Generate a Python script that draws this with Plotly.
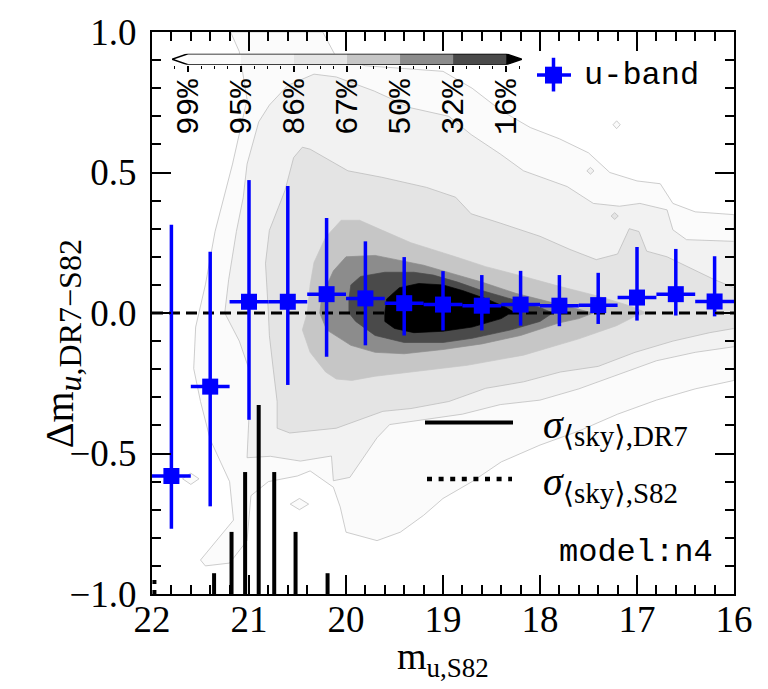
import plotly.graph_objects as go

# ---------------- data ----------------
mag_bins = [21.8, 21.4, 21.0, 20.6, 20.2, 19.8, 19.4, 19.0, 18.6, 18.2, 17.8, 17.4, 17.0, 16.6, 16.2]
dm_median = [-0.580, -0.262, 0.040, 0.040, 0.067, 0.052, 0.035, 0.030, 0.026, 0.030, 0.026, 0.028, 0.055, 0.067, 0.041]
dm_upper = [0.314, 0.218, 0.473, 0.452, 0.338, 0.255, 0.199, 0.149, 0.135, 0.150, 0.135, 0.143, 0.235, 0.228, 0.202]
dm_lower = [-0.768, -0.688, -0.380, -0.256, -0.156, -0.115, -0.080, -0.062, -0.062, -0.045, -0.047, -0.039, -0.027, -0.009, -0.012]
bin_halfwidth = 0.2

hist_dr7_mag = [21.36, 21.18, 21.04, 20.90, 20.74, 20.52, 20.19]
hist_dr7_top = [-0.926, -0.779, -0.566, -0.327, -0.566, -0.779, -0.926]
hist_s82_mag = [21.975]
hist_s82_top = [-0.94]

level_labels = ["99%", "95%", "86%", "67%", "50%", "32%", "16%"]
level_colors = ["#fbfbfb", "#f2f2f2", "#e4e4e4", "#c6c6c6", "#8c8c8c", "#4a4a4a", "#000000"]

# contour outlines (mag_S82, delta m), one list per enclosed level
c99 = [(21.19, 1.0), (20.24, 1.0), (20.1, 0.91), (19.8, 0.88), (19.4, 0.87), (19.0, 0.86), (18.7, 0.80),
       (18.4, 0.72), (18.1, 0.66), (17.8, 0.62), (17.5, 0.57), (17.28, 0.50), (17.0, 0.47), (16.76, 0.46),
       (16.63, 0.39), (16.4, 0.36), (16.0, 0.35), (16.0, -0.24), (16.4, -0.27), (16.8, -0.31), (17.2, -0.36),
       (17.6, -0.42), (18.0, -0.47), (18.4, -0.53), (18.7, -0.60), (19.0, -0.66), (19.2, -0.72), (19.44, -0.78),
       (19.68, -0.81), (20.0, -0.78), (20.06, -0.69), (20.13, -0.62), (20.37, -0.562), (20.5, -0.58),
       (20.8, -0.60), (20.98, -0.65), (21.02, -0.81), (21.2, -0.89), (21.45, -0.90), (21.5, -0.879),
       (21.33, -0.808), (21.16, -0.737), (21.2, -0.6), (21.4, -0.45), (21.5, -0.315), (21.57, -0.198),
       (21.55, -0.05), (21.45, 0.1), (21.35, 0.29), (21.17, 0.53), (21.02, 0.76), (21.1, 0.93)]
c95 = [(21.25, 0.0), (21.21, 0.118), (21.13, 0.29), (21.06, 0.41), (21.02, 0.53), (20.9, 0.68), (20.79, 0.74),
       (20.6, 0.81), (20.33, 0.85), (20.1, 0.84), (19.71, 0.79), (19.33, 0.73), (18.94, 0.70), (18.71, 0.635),
       (18.41, 0.566), (18.17, 0.506), (17.72, 0.45), (17.45, 0.39), (17.18, 0.38), (16.97, 0.39),
       (16.69, 0.367), (16.63, 0.296), (16.49, 0.261), (16.0, 0.255), (16.0, -0.12), (16.4, -0.14),
       (16.8, -0.17), (17.2, -0.22), (17.6, -0.27), (18.0, -0.31), (18.41, -0.326), (18.8, -0.36),
       (19.2, -0.38), (19.55, -0.397), (19.68, -0.444), (19.96, -0.585), (20.13, -0.597), (20.15, -0.509),
       (20.47, -0.527), (20.78, -0.51), (21.02, -0.515), (20.99, -0.29), (21.0, -0.2), (21.1, -0.1)]
c86 = [(20.8, 0.0), (20.83, 0.177), (20.79, 0.294), (20.63, 0.435), (20.54, 0.553), (20.45, 0.59),
       (20.37, 0.583), (19.98, 0.506), (19.63, 0.483), (19.17, 0.447), (18.87, 0.412), (18.71, 0.353),
       (18.41, 0.32), (18.0, 0.273), (17.69, 0.226), (17.42, 0.19), (17.2, 0.21), (17.08, 0.30),
       (16.98, 0.29), (16.9, 0.22), (16.69, 0.20), (16.4, 0.15), (16.21, 0.12), (16.0, 0.09), (16.0, -0.055),
       (16.25, -0.07), (16.63, -0.10), (17.02, -0.14), (17.40, -0.19), (17.79, -0.21), (18.17, -0.245),
       (18.56, -0.268), (18.94, -0.315), (19.33, -0.34), (19.62, -0.35), (20.10, -0.41), (20.58, -0.427),
       (20.71, -0.41), (20.71, -0.315), (20.75, -0.2), (20.79, -0.08)]
c67 = [(20.40, 0.0), (20.37, 0.10), (20.33, 0.18), (20.21, 0.27), (20.05, 0.33), (19.86, 0.33), (19.63, 0.295),
       (19.33, 0.25), (18.87, 0.20), (18.56, 0.165), (18.17, 0.13), (17.79, 0.094), (17.40, 0.06),
       (17.06, 0.024), (16.90, 0.0), (17.02, -0.012), (17.21, -0.045), (17.6, -0.092), (18.17, -0.15),
       (18.75, -0.186), (19.33, -0.21), (19.7, -0.225), (19.94, -0.24), (20.1, -0.235), (20.21, -0.21),
       (20.37, -0.14), (20.45, -0.06)]
c50 = [(20.27, 0.0), (20.25, 0.06), (20.13, 0.15), (20.0, 0.20), (19.7, 0.205), (19.5, 0.19), (19.2, 0.17),
       (18.9, 0.14), (18.6, 0.11), (18.25, 0.07), (17.9, 0.04), (17.6, 0.015), (17.45, 0.0), (17.6, -0.02),
       (17.8, -0.035), (18.2, -0.08), (18.6, -0.11), (19.0, -0.13), (19.4, -0.145), (19.7, -0.14),
       (19.95, -0.115), (20.2, -0.06)]
c32 = [(19.97, 0.0), (19.97, 0.05), (19.95, 0.10), (19.85, 0.13), (19.6, 0.145), (19.3, 0.145), (19.1, 0.135),
       (18.85, 0.11), (18.6, 0.08), (18.3, 0.05), (18.0, 0.02), (17.87, 0.0), (18.0, -0.03), (18.3, -0.06),
       (18.7, -0.09), (19.0, -0.105), (19.4, -0.105), (19.7, -0.08), (19.9, -0.03)]
c16 = [(19.60, 0.0), (19.58, 0.05), (19.45, 0.09), (19.25, 0.105), (19.0, 0.10), (18.8, 0.08), (18.55, 0.05),
       (18.35, 0.02), (18.28, 0.005), (18.4, -0.02), (18.7, -0.05), (19.0, -0.065), (19.3, -0.07),
       (19.5, -0.055), (19.6, -0.03)]
contours = [c99, c95, c86, c67, c50, c32, c16]

# small isolated contour islands: (mag, dm, half width, half height, level index)
islands = [(17.21, 0.67, 0.037, 0.014, 0), (17.48, 0.506, 0.037, 0.012, 1), (17.23, 0.345, 0.037, 0.012, 2),
           (21.60, -0.59, 0.085, 0.020, 0), (20.48, -0.68, 0.095, 0.020, 0)]

x_range = [22, 16]
y_range = [-1, 1]

# ---------------- figure geometry (pixels) ----------------
W, H = 768, 689
L, R, T, B = 152, 734, 27, 594


def xp(px):
    return (px - L) / (R - L)


def yp(py):
    return (B - py) / (B - T)


SERIF = "Liberation Serif, DejaVu Serif, serif"
MONO = "Liberation Mono, DejaVu Sans Mono, monospace"

fig = go.Figure()

# filled density contours
for i, poly in enumerate(contours):
    xs = [p[0] for p in poly] + [poly[0][0]]
    ys = [p[1] for p in poly] + [poly[0][1]]
    edge = "#b8b8b8" if i < 3 else level_colors[i]
    fig.add_trace(go.Scatter(x=xs, y=ys, mode="lines", fill="toself", fillcolor=level_colors[i],
                             line=dict(color=edge, width=0.7), hoverinfo="skip", showlegend=False))

for (mx, my, hw, hh, li) in islands:
    xs = [mx - hw, mx, mx + hw, mx, mx - hw]
    ys = [my, my + hh, my, my - hh, my]
    fig.add_trace(go.Scatter(x=xs, y=ys, mode="lines", fill="toself", fillcolor=level_colors[li],
                             line=dict(color="#b8b8b8", width=0.7), hoverinfo="skip", showlegend=False))

# sky-noise histograms
hx, hy = [], []
for m, t in zip(hist_dr7_mag, hist_dr7_top):
    hx += [m, m, None]
    hy += [y_range[0], t, None]
fig.add_trace(go.Scatter(x=hx, y=hy, mode="lines", line=dict(color="black", width=4),
                         hoverinfo="skip", showlegend=False))
sx, sy = [], []
for m, t in zip(hist_s82_mag, hist_s82_top):
    sx += [m, m, None]
    sy += [y_range[0], t, None]
fig.add_trace(go.Scatter(x=sx, y=sy, mode="lines", line=dict(color="black", width=4, dash="4px,6px"),
                         hoverinfo="skip", showlegend=False))

# zero line
fig.add_trace(go.Scatter(x=x_range, y=[0, 0], mode="lines",
                         line=dict(color="black", width=3, dash="11px,6px"),
                         hoverinfo="skip", showlegend=False))

# binned medians
err_plus = [u - m for u, m in zip(dm_upper, dm_median)]
err_minus = [m - l for m, l in zip(dm_median, dm_lower)]
fig.add_trace(go.Scatter(
    x=mag_bins, y=dm_median, mode="markers",
    marker=dict(symbol="square", size=16, color="#0000ff", line=dict(width=0)),
    error_y=dict(type="data", array=err_plus, arrayminus=err_minus, symmetric=False,
                 color="#0000ff", thickness=3.5, width=0),
    error_x=dict(type="constant", value=bin_halfwidth, color="#0000ff", thickness=3.5, width=0),
    showlegend=False, hoverinfo="skip"))

# ---------------- colour bar (own small axes) ----------------
fig.add_trace(go.Scatter(x=[-0.3, 0, 0, -0.3], y=[0.5, 1, 0, 0.5], xaxis="x2", yaxis="y2", mode="lines",
                         fill="toself", fillcolor="#ffffff", line=dict(width=0), hoverinfo="skip",
                         showlegend=False))
for k in range(6):
    fig.add_trace(go.Scatter(x=[k, k + 1, k + 1, k, k], y=[0, 0, 1, 1, 0], xaxis="x2", yaxis="y2",
                             mode="lines", fill="toself", fillcolor=level_colors[k], line=dict(width=0),
                             hoverinfo="skip", showlegend=False))
fig.add_trace(go.Scatter(x=[6, 6.3, 6, 6], y=[0, 0.5, 1, 0], xaxis="x2", yaxis="y2", mode="lines",
                         fill="toself", fillcolor=level_colors[6], line=dict(width=0), hoverinfo="skip",
                         showlegend=False))
fig.add_trace(go.Scatter(x=[-0.3, 0, 6, 6.3, 6, 0, -0.3], y=[0.5, 1, 1, 0.5, 0, 0, 0.5], xaxis="x2",
                         yaxis="y2", mode="lines", line=dict(color="black", width=1.5), hoverinfo="skip",
                         showlegend=False))

# ---------------- axes ----------------
axis_common = dict(showgrid=False, zeroline=False, showline=True, linecolor="black", linewidth=2,
                   mirror="ticks", ticks="inside", tickcolor="black", tickwidth=2, ticklen=19,
                   tickfont=dict(family=SERIF, size=37, color="black"))
fig.update_layout(
    xaxis=dict(range=x_range, tickmode="linear", tick0=16, dtick=1,
               minor=dict(ticks="inside", dtick=0.2, tick0=16, ticklen=9, tickwidth=1.5, tickcolor="black"),
               ticklabelstandoff=-8, **axis_common),
    yaxis=dict(range=y_range, tickmode="linear", tick0=-1, dtick=0.5, tickformat=".1f",
               minor=dict(ticks="inside", dtick=0.1, tick0=-1, ticklen=9, tickwidth=1.5, tickcolor="black"),
               ticklabelstandoff=6, **axis_common),
    xaxis2=dict(domain=[xp(172), xp(522)], range=[-0.3, 6.3], anchor="y2", showgrid=False, zeroline=False,
                showline=False, tickmode="array", tickvals=list(range(7)), ticktext=level_labels,
                tickangle=-90, ticks="outside", ticklen=6, tickwidth=1.5, tickcolor="black",
                minor=dict(ticks="outside", tickmode="linear", tick0=0, dtick=0.25, ticklen=3, tickwidth=1,
                           tickcolor="black"),
                ticklabelstandoff=-5,
                tickfont=dict(family=MONO, size=31, color="black"), fixedrange=True),
    yaxis2=dict(domain=[yp(60), yp(49)], range=[0, 1], anchor="x2", visible=False, fixedrange=True),
)

# ---------------- legends and labels ----------------
shapes = []
shapes.append(dict(type="line", xref="paper", yref="paper", x0=xp(537), x1=xp(571), y0=yp(70.5), y1=yp(70.5),
                   line=dict(color="#0000ff", width=3.5)))
shapes.append(dict(type="line", xref="paper", yref="paper", x0=xp(553.5), x1=xp(553.5), y0=yp(53), y1=yp(87),
                   line=dict(color="#0000ff", width=3.5)))
shapes.append(dict(type="rect", xref="paper", yref="paper", x0=xp(545), x1=xp(562), y0=yp(62), y1=yp(79),
                   fillcolor="#0000ff", line=dict(width=0)))
shapes.append(dict(type="line", xref="paper", yref="paper", x0=xp(425), x1=xp(513), y0=yp(421), y1=yp(421),
                   line=dict(color="black", width=4)))
shapes.append(dict(type="line", xref="paper", yref="paper", x0=xp(427), x1=xp(512), y0=yp(478), y1=yp(478),
                   line=dict(color="black", width=4.5, dash="5px,6.6px")))
fig.update_layout(shapes=shapes)

SUB = "<sub><span style='font-size:{}px'>{}</span></sub>"
annotations = [
    dict(text="u-band", x=xp(582), y=yp(71), xref="paper", yref="paper", xanchor="left", yanchor="middle",
         showarrow=False, font=dict(family=MONO, size=32, color="black")),
    dict(text="<i>σ</i>" + SUB.format(29, "⟨sky⟩,DR7"), x=xp(541), y=yp(426), xref="paper", yref="paper",
         xanchor="left", yanchor="middle", showarrow=False, font=dict(family=SERIF, size=40, color="black")),
    dict(text="<i>σ</i>" + SUB.format(29, "⟨sky⟩,S82"), x=xp(541), y=yp(483), xref="paper", yref="paper",
         xanchor="left", yanchor="middle", showarrow=False, font=dict(family=SERIF, size=40, color="black")),
    dict(text="model:n4", x=xp(715), y=yp(552), xref="paper", yref="paper", xanchor="right", yanchor="middle",
         showarrow=False, font=dict(family=MONO, size=32, color="black")),
    dict(text="m" + SUB.format(27, "u,S82"), x=xp(443), y=yp(660), xref="paper", yref="paper",
         xanchor="center", yanchor="middle", showarrow=False, font=dict(family=SERIF, size=38, color="black")),
    dict(text="Δm" + SUB.format(32, "<i>u</i>,DR7−S82"), x=xp(62), y=yp(342), xref="paper", yref="paper",
         xanchor="center", yanchor="middle", textangle=-90, showarrow=False,
         font=dict(family=SERIF, size=40, color="black")),
]
fig.update_layout(annotations=annotations)

fig.update_layout(width=W, height=H, autosize=False,
                  margin=dict(l=L, r=W - R, t=T, b=H - B, pad=0),
                  paper_bgcolor="white", plot_bgcolor="white", showlegend=False)

fig.write_html("out.html")
